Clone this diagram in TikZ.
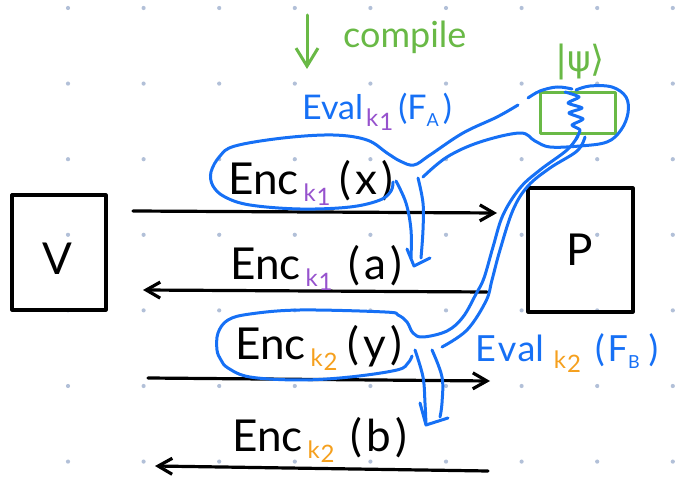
\documentclass[tikz,border=0pt]{standalone}
\usepackage{fontspec}
\setmainfont{Lato}
\newfontfamily\statefont{DejaVu Sans}
\usetikzlibrary{arrows.meta}
\definecolor{inkblue}{RGB}{22,112,245}
\definecolor{inkpurple}{RGB}{150,82,205}
\definecolor{inkorange}{RGB}{245,160,30}
\definecolor{inkgreen}{RGB}{105,185,70}
\definecolor{griddot}{RGB}{178,192,216}
% key subscript: small k with a lowered index
\newcommand\keysub[2]{\raisebox{-7pt}{\color{#1}\fontsize{24}{24}\selectfont k\kern1pt\raisebox{-4pt}{#2}}}
% Enc_k(m); optional argument: gap between key and bracket
\newcommand\encterm[4][9pt]{\fontsize{44}{44}\selectfont Enc\hspace{5pt}\keysub{#2}{#3}\hspace{#1}(\hspace{4pt}#4\hspace{4pt})}
\begin{document}
\begin{tikzpicture}[x=1pt,y=-1pt,
  ink/.style={line width=3.2pt,line cap=round,line join=round},
  blueink/.style={ink,draw=inkblue,line width=3pt},
  greenink/.style={ink,draw=inkgreen,line width=3pt},
  party/.style={draw,ink,minimum width=#1,inner sep=0pt},
  msgarrow/.style={ink,-{Straight Barb[length=14pt,width=16pt]}},
  term/.style={inner sep=0pt,anchor=base west}]
\path[use as bounding box] (0,0) rectangle (678,478);
% dotted grid paper
\foreach \i in {0,...,8}
  \foreach \j in {0,...,6}
    \fill[griddot] ({68+75.6*\i},{8+75.6*\j}) circle (2.1pt);

% the two parties
\node[party=94pt,minimum height=115pt] (V) at (59,252.5) {};
\node[font=\fontsize{44}{44}\selectfont,inner sep=0pt] (Vlab) at (57,259) {V};
\node[party=105pt,minimum height=124pt] (P) at (580.5,250) {};
\node[font=\fontsize{44}{44}\selectfont,inner sep=0pt] (Plab) at (580,250) {P};

% messages
\coordinate (m1s) at (133,211); \coordinate (m1e) at (497,213);
\coordinate (m2s) at (487,292); \coordinate (m2e) at (143,290);
\coordinate (m3s) at (148,378); \coordinate (m3e) at (490,381);
\coordinate (m4s) at (488,471); \coordinate (m4e) at (155,466);
\draw[msgarrow] (m1s) -- (m1e);
\draw[msgarrow] (m2s) -- (m2e);
\draw[msgarrow] (m3s) -- (m3e);
\draw[msgarrow] (m4s) -- (m4e);

\node[term] (ex) at (228,195) {\encterm{inkpurple}{1}{x}};
\node[term] (ea) at (230,280) {\encterm[16pt]{inkpurple}{1}{a}};
\node[term] (ey) at (235,360) {\encterm[10pt]{inkorange}{2}{y}};
\node[term] (eb) at (232,452) {\encterm[16pt]{inkorange}{2}{b}};

% homomorphic evaluations
\node[term,text=inkblue,font=\fontsize{34}{34}\selectfont] (evA) at (302,120)
  {Eval\hspace{3pt}\keysub{inkpurple}{1}\hspace{5pt}(F\raisebox{-7pt}{\fontsize{18}{18}\selectfont A}\hspace{4pt})};
\node[term,text=inkblue,font=\fontsize{36}{36}\selectfont] (evB) at (475,362)
  {E\kern2pt v\kern1pt al\hspace{10pt}\keysub{inkorange}{2}\hspace{14pt}(\hspace{3pt}F\raisebox{-7pt}{\fontsize{18}{18}\selectfont B}\hspace{9pt})};

% compile step
\coordinate (cs) at (307,15); \coordinate (ce) at (307,69);
\draw[greenink,-{Straight Barb[length=18pt,width=22pt]}] (cs) -- (ce);
\node[term,text=inkgreen,font=\fontsize{36}{36}\selectfont] (comp) at (343,48) {compile};

% shared state
\node[text=inkgreen,inner sep=0pt,font=\statefont\fontsize{36}{36}\selectfont] (psi) at (580,62) {|ψ⟩};
\draw[greenink] (540,93) rectangle (615,134);

% entanglement squiggle
\draw[blueink] plot[smooth,tension=0.4] coordinates {(565,92) (579,97) (568,103) (582,108) (569,113) (583,119) (572,125) (580,130) (576,139)};

% bubble around Enc_k1(x) with its pipe to the state
\draw[blueink] plot[smooth,tension=0.6] coordinates {(393,182) (391,191) (380,200) (350,207) (300,209) (250,205) (225,197) (213,186) (211,172) (220,156) (235,146) (283,138) (333,135) (367,140) (387,153) (400,161) (414,165) (430,155) (463,133) (497,117) (518,105)};
\draw[blueink] plot[smooth,tension=0.6] coordinates {(528,98) (540,91) (557,87) (572,89)};
\draw[blueink] plot[smooth,tension=0.6] coordinates {(423,177) (447,157) (480,142) (520,133) (535,141) (550,147) (580,146) (607,142) (621,130) (628,113) (626,97) (612,87) (590,86) (576,90)};

% hollow arrow into Enc_k1(a)
\draw[blueink] plot[smooth,tension=0.6] coordinates {(396,181) (406,203) (411,230) (411,258)};
\draw[blueink] plot[smooth,tension=0.6] coordinates {(418,178) (423,203) (423,230) (421,258)};
\draw[blueink] (407,249) -- (414,266) -- (430,258);

% bubble around Enc_k2(y) with its long pipe to the state
\draw[blueink] plot[smooth,tension=0.6] coordinates {(578,136) (567,150) (540,170) (520,188) (503,215) (493,247) (484,278) (476,294) (463,317) (447,331) (423,337) (413,333) (407,322) (398,315) (385,312) (300,310) (250,314) (228,320) (218,333) (217,350) (221,360) (228,368) (250,377) (300,380) (350,377) (397,370) (408,363) (412,356)};
\draw[blueink] plot[smooth,tension=0.6] coordinates {(585,137) (577,151) (550,168) (528,186) (513,210) (500,250) (492,280) (486,301) (467,330) (442,347)};

% hollow arrow into Enc_k2(b)
\draw[blueink] plot[smooth,tension=0.6] coordinates {(415,350) (423,377) (425,403) (426,424)};
\draw[blueink] plot[smooth,tension=0.6] coordinates {(432,350) (442,377) (442,403) (440,417)};
\draw[blueink] (420,403) -- (426,425) -- (448,418);
\end{tikzpicture}
\end{document}
